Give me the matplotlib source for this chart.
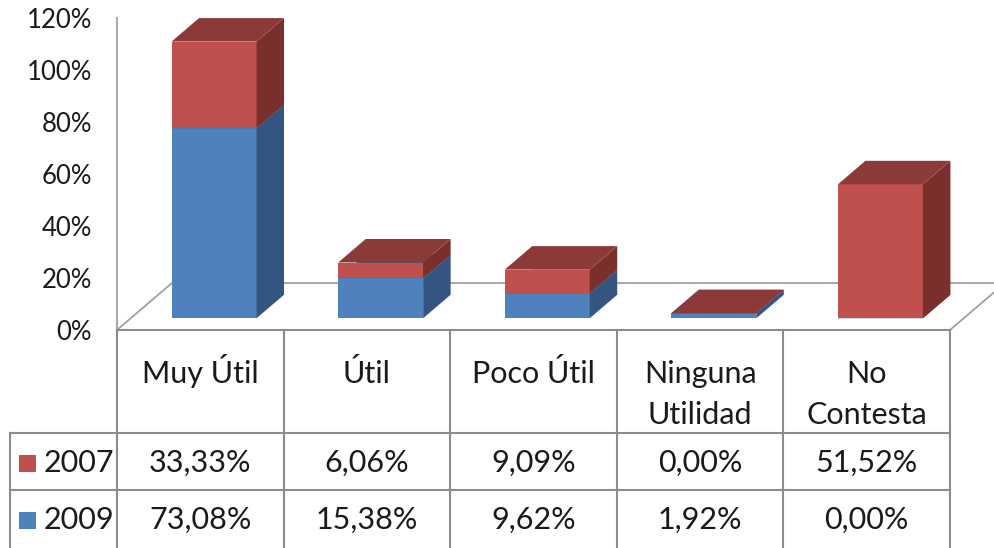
import matplotlib
matplotlib.use('Agg')
import matplotlib.pyplot as plt
from matplotlib.patches import Polygon, Rectangle

categories = ['Muy Útil', 'Útil', 'Poco Útil', 'Ninguna\nUtilidad', 'No\nContesta']
years = ['2009', '2007']
values_2009 = [73.08, 15.38, 9.62, 1.92, 0.00]
values_2007 = [33.33, 6.06, 9.09, 0.00, 51.52]
labels_2009 = ['73,08%', '15,38%', '9,62%', '1,92%', '0,00%']
labels_2007 = ['33,33%', '6,06%', '9,09%', '0,00%', '51,52%']
yticks = [0, 20, 40, 60, 80, 100, 120]

front = {'2009': '#4F81BD', '2007': '#C0504D'}
side = {'2009': '#34557F', '2007': '#7B2F2D'}
top = {'2009': '#3B5F8E', '2007': '#8C3A38'}
grid_col = '#8C8C8C'
txt_col = '#1a1a1a'

plt.rcParams['font.family'] = ['Lato', 'DejaVu Sans']

W, H = 995, 548
fig = plt.figure(figsize=(W / 100, H / 100), dpi=100)

# chart area: x in category units, y in percent
ax = fig.add_axes([117 / W, (H - 330) / H, (950 - 117) / W, 312 / H])
ax.set_xlim(-0.5, 4.5)
ax.set_ylim(0, 120)

# depth of the floor (3D look) and of the bars
floor_dx, floor_dy = 0.33, 18.08
off_dx, off_dy = floor_dx * 0.25, floor_dy * 0.25
bar_dx, bar_dy = floor_dx * 0.5, floor_dy * 0.5
bw = 0.51

# floor outline
ax.plot([-0.5, -0.5 + floor_dx, 4.5 + floor_dx, 4.5],
        [0, floor_dy, floor_dy, 0], color='#A0A0A0', lw=1.3,
        clip_on=False, zorder=1)

x = list(range(len(categories)))
for i in x:
    bottom = 0
    for yr, vals in (('2009', values_2009), ('2007', values_2007)):
        h = vals[i]
        xc = i + off_dx
        x0, x1 = xc - bw / 2, xc + bw / 2
        y0, y1 = bottom + off_dy, bottom + h + off_dy
        ax.bar(xc, h, bw, bottom=y0, color=front[yr], lw=0, zorder=3,
               clip_on=False)
        ax.add_patch(Polygon([(x1, y0), (x1 + bar_dx, y0 + bar_dy),
                              (x1 + bar_dx, y1 + bar_dy), (x1, y1)],
                             closed=True, facecolor=side[yr], lw=0,
                             zorder=3, clip_on=False))
        ax.add_patch(Polygon([(x0, y1), (x1, y1), (x1 + bar_dx, y1 + bar_dy),
                              (x0 + bar_dx, y1 + bar_dy)],
                             closed=True, facecolor=top[yr], lw=0,
                             zorder=3, clip_on=False))
        bottom += h

for s in ['top', 'right', 'bottom']:
    ax.spines[s].set_visible(False)
ax.spines['left'].set_color('#A0A0A0')
ax.spines['left'].set_linewidth(1.3)
ax.set_xticks([])
ax.set_yticks(yticks)
ax.set_yticklabels([f'{t}%' for t in yticks], fontsize=18.5, color=txt_col)
ax.tick_params(axis='y', length=0, pad=18)
ax.patch.set_alpha(0)

# data table below, x aligned with the categories, y in pixels from the top
tab = fig.add_axes([10 / W, 0, 940 / W, 218 / H])
left = -0.5 - 107 / 166.6
tab.set_xlim(left, 4.5)
tab.set_ylim(218, 0)
tab.axis('off')

lk = dict(color=grid_col, lw=1.5, clip_on=False)
tab.plot([-0.5, 4.5], [0, 0], **lk)
tab.plot([left, 4.5], [103, 103], **lk)
tab.plot([left, 4.5], [160, 160], **lk)
tab.plot([left, left], [103, 218], **lk)
for b in range(6):
    tab.plot([b - 0.5, b - 0.5], [0, 218], **lk)

fs = 22
for i, cat in enumerate(categories):
    for k, line in enumerate(cat.split('\n')):
        tab.text(i, 53 + 41 * k, line, ha='center', va='baseline',
                 fontsize=fs, color=txt_col)
    tab.text(i, 133, labels_2007[i], ha='center', va='center', fontsize=fs,
             color=txt_col)
    tab.text(i, 190, labels_2009[i], ha='center', va='center', fontsize=fs,
             color=txt_col)

sq_w = 17 / 166.6
for yr, yc in (('2007', 133), ('2009', 190)):
    tab.add_patch(Rectangle((left + 9 / 166.6, yc - 8.5), sq_w, 17,
                            facecolor=front[yr], lw=0, clip_on=False))
    tab.text(left + 34 / 166.6, yc, yr, ha='left', va='center',
             fontsize=fs, color=txt_col)

fig.savefig('out.png', dpi=100)
